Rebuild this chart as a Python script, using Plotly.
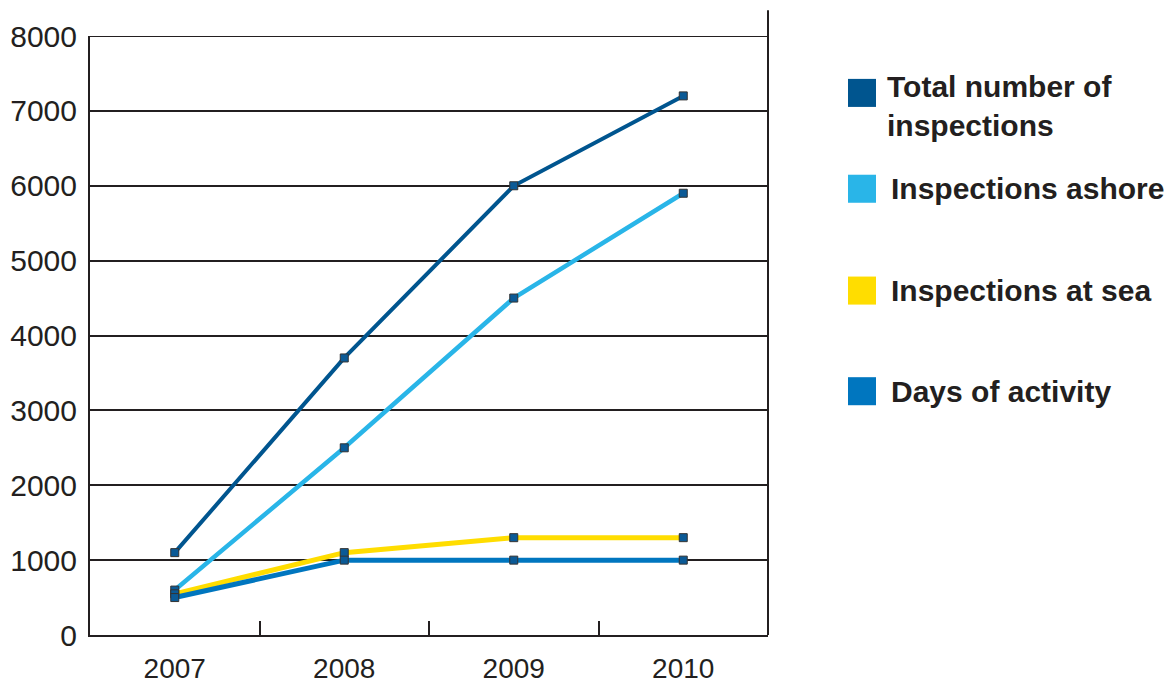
import plotly.graph_objects as go

years = [2007, 2008, 2009, 2010]
total_inspections = [1100, 3700, 6000, 7200]
inspections_ashore = [600, 2500, 4500, 5900]
inspections_at_sea = [550, 1100, 1300, 1300]
days_of_activity = [500, 1000, 1000, 1000]

series_names = ["Total number of<br>inspections", "Inspections ashore",
                "Inspections at sea", "Days of activity"]
series_values = [total_inspections, inspections_ashore, inspections_at_sea, days_of_activity]
series_colors = ["#00558f", "#29b5e8", "#ffdd00", "#0076bf"]
line_widths = [4, 4.5, 5, 5]

y_ticks = [0, 1000, 2000, 3000, 4000, 5000, 6000, 7000, 8000]

INK = "#231f20"
FONT = "Liberation Sans, Arial, sans-serif"

fig = go.Figure()
for name, vals, col, lw in zip(series_names, series_values, series_colors, line_widths):
    fig.add_trace(go.Scatter(x=years, y=vals, mode="lines", name=name,
                             line=dict(color=col, width=lw), showlegend=False))
for name, vals in zip(series_names, series_values):
    fig.add_trace(go.Scatter(x=years, y=vals, mode="markers", showlegend=False,
                             marker=dict(symbol="square", size=8, color="#0b5a96",
                                         line=dict(color="#333333", width=1))))

# custom legend (squares + bold labels) in paper coordinates
legend_y = [0.905, 0.745, 0.575, 0.407]
for name, col, ly in zip(series_names, series_colors, legend_y):
    fig.add_shape(type="rect", xref="paper", yref="paper",
                  x0=1.118, x1=1.1593, y0=ly - 0.0234, y1=ly + 0.0234,
                  fillcolor=col, line=dict(width=0))
    two_line = "<br>" in name
    fig.add_annotation(xref="paper", yref="paper", x=1.1726 if two_line else 1.1784,
                       y=(ly + 0.042) if two_line else ly,
                       yanchor="top" if two_line else "middle", xanchor="left",
                       text="<b>" + name + "</b>", showarrow=False, align="left",
                       font=dict(family=FONT, size=30, color=INK))

# right frame line extending above the plot
fig.add_shape(type="line", xref="paper", yref="paper", x0=1, x1=1, y0=0, y1=1.043,
              line=dict(color=INK, width=2))
# top line at 8000
fig.add_shape(type="line", xref="paper", yref="y", x0=0, x1=1, y0=8000, y1=8000,
              line=dict(color=INK, width=2), layer="below")

# the page body adds an 8px offset, so the figure is 8px smaller with shifted margins
fig.update_layout(
    width=1166, height=676,
    margin=dict(l=82, r=406, t=28, b=49, autoexpand=False),
    paper_bgcolor="white", plot_bgcolor="white",
    font=dict(family=FONT, color=INK),
    showlegend=False,
)
fig.update_xaxes(range=[2006.5, 2010.5], tickvals=years, ticktext=[str(y) for y in years],
                 ticks="", showgrid=False, zeroline=False, automargin=False,
                 showline=True, linecolor=INK, linewidth=2,
                 tickfont=dict(family=FONT, size=28, color=INK), ticklabelstandoff=7,
                 minor=dict(tickvals=[2007.5, 2008.5, 2009.5], ticks="inside",
                            ticklen=14, tickwidth=2, tickcolor=INK, showgrid=False))
fig.update_yaxes(range=[0, 8000], tickvals=y_ticks, ticks="",
                 showgrid=True, gridcolor=INK, gridwidth=2, zeroline=False, automargin=False,
                 showline=True, linecolor=INK, linewidth=2,
                 tickfont=dict(family=FONT, size=30, color=INK), ticklabelstandoff=5)

fig.write_html("out.html")
